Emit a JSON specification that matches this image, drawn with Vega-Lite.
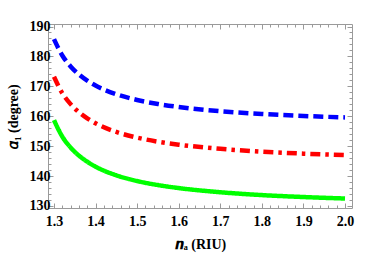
{
  "$schema": "https://vega.github.io/schema/vega-lite/v6.json",
  "width": 304,
  "height": 184,
  "autosize": {"type": "none"},
  "padding": {"left": 48, "top": 24, "right": 22, "bottom": 45},
  "config": {
    "view": {"stroke": "#9a9a9a", "strokeWidth": 1},
    "axis": {
      "domain": false,
      "grid": false,
      "tickColor": "#9a9a9a",
      "labelFont": "Liberation Serif",
      "labelFontWeight": "bold",
      "labelFontSize": 14,
      "labelColor": "#000",
      "titleFont": "Liberation Serif",
      "titleFontWeight": "bold",
      "titleFontSize": 14,
      "titleColor": "#000",
      "labelOverlap": false,
      "labelFlush": false
    }
  },
  "data": {
    "values": [
      {"n": 1.30, "v": 185.8, "s": "a"}, {"n": 1.32, "v": 180.3, "s": "a"}, {"n": 1.34, "v": 176.65, "s": "a"},
      {"n": 1.36, "v": 173.96, "s": "a"}, {"n": 1.38, "v": 171.9, "s": "a"}, {"n": 1.40, "v": 170.26, "s": "a"},
      {"n": 1.45, "v": 167.36, "s": "a"}, {"n": 1.50, "v": 165.45, "s": "a"}, {"n": 1.55, "v": 164.1, "s": "a"},
      {"n": 1.60, "v": 163.09, "s": "a"}, {"n": 1.70, "v": 161.69, "s": "a"}, {"n": 1.80, "v": 160.76, "s": "a"},
      {"n": 1.90, "v": 160.1, "s": "a"}, {"n": 2.00, "v": 159.61, "s": "a"},
      {"n": 1.30, "v": 173.2, "s": "b"}, {"n": 1.32, "v": 167.7, "s": "b"}, {"n": 1.34, "v": 164.05, "s": "b"},
      {"n": 1.36, "v": 161.35, "s": "b"}, {"n": 1.38, "v": 159.3, "s": "b"}, {"n": 1.40, "v": 157.65, "s": "b"},
      {"n": 1.45, "v": 154.75, "s": "b"}, {"n": 1.50, "v": 152.85, "s": "b"}, {"n": 1.55, "v": 151.5, "s": "b"},
      {"n": 1.60, "v": 150.5, "s": "b"}, {"n": 1.70, "v": 149.1, "s": "b"}, {"n": 1.80, "v": 148.15, "s": "b"},
      {"n": 1.90, "v": 147.5, "s": "b"}, {"n": 2.00, "v": 147.0, "s": "b"},
      {"n": 1.30, "v": 158.7, "s": "c"}, {"n": 1.32, "v": 153.2, "s": "c"}, {"n": 1.34, "v": 149.55, "s": "c"},
      {"n": 1.36, "v": 146.85, "s": "c"}, {"n": 1.38, "v": 144.8, "s": "c"}, {"n": 1.40, "v": 143.15, "s": "c"},
      {"n": 1.45, "v": 140.25, "s": "c"}, {"n": 1.50, "v": 138.35, "s": "c"}, {"n": 1.55, "v": 137.0, "s": "c"},
      {"n": 1.60, "v": 136.0, "s": "c"}, {"n": 1.70, "v": 134.6, "s": "c"}, {"n": 1.80, "v": 133.65, "s": "c"},
      {"n": 1.90, "v": 133.0, "s": "c"}, {"n": 2.00, "v": 132.5, "s": "c"}
    ]
  },
  "resolve": {"axis": {"x": "independent", "y": "independent"}},
  "layer": [
    {
      "mark": {"type": "line", "interpolate": "monotone", "strokeWidth": 4.5, "strokeCap": "butt", "clip": true},
      "encoding": {
        "x": {
          "field": "n", "type": "quantitative",
          "scale": {"domain": [1.2856, 2.0168], "nice": false, "zero": false},
          "axis": {
            "orient": "bottom",
            "title": "𝒏ₐ (RIU)",
            "titlePadding": 7,
            "labelFont": "Liberation Serif",
            "values": [1.3,1.32,1.34,1.36,1.38,1.4,1.42,1.44,1.46,1.48,1.5,1.52,1.54,1.56,1.58,1.6,1.62,1.64,1.66,1.68,1.7,1.72,1.74,1.76,1.78,1.8,1.82,1.84,1.86,1.88,1.9,1.92,1.94,1.96,1.98,2.0],
            "labelExpr": "abs(datum.value*10 - round(datum.value*10)) < 0.001 ? format(datum.value, '.1f') : ''",
            "tickSize": {"condition": {"test": "abs(datum.value*10 - round(datum.value*10)) < 0.001", "value": -5}, "value": -3},
            "labelPadding": 11
          }
        },
        "y": {
          "field": "v", "type": "quantitative",
          "scale": {"domain": [129.33, 190.84], "nice": false, "zero": false},
          "axis": {
            "orient": "left",
            "title": "𝛼₁ (degree)",
            "titlePadding": 9,
            "labelFont": "Liberation Serif",
            "values": [130,132,134,136,138,140,142,144,146,148,150,152,154,156,158,160,162,164,166,168,170,172,174,176,178,180,182,184,186,188,190],
            "labelExpr": "datum.value % 10 == 0 ? format(datum.value, 'd') : ''",
            "tickSize": {"condition": {"test": "datum.value % 10 == 0", "value": -5}, "value": -3},
            "labelPadding": 3
          }
        },
        "color": {
          "field": "s", "type": "nominal", "legend": null,
          "scale": {"domain": ["a", "b", "c"], "range": ["#0000ff", "#ff0000", "#00ff00"]}
        },
        "strokeDash": {
          "field": "s", "type": "nominal", "legend": null,
          "scale": {"domain": ["a", "b", "c"], "range": [[10, 5], [10, 5, 3.5, 5], [1, 0]]}
        }
      }
    },
    {
      "mark": {"type": "line", "opacity": 0},
      "encoding": {
        "x": {
          "field": "n", "type": "quantitative",
          "axis": {
            "orient": "top", "title": null, "labels": false,
            "values": [1.3,1.32,1.34,1.36,1.38,1.4,1.42,1.44,1.46,1.48,1.5,1.52,1.54,1.56,1.58,1.6,1.62,1.64,1.66,1.68,1.7,1.72,1.74,1.76,1.78,1.8,1.82,1.84,1.86,1.88,1.9,1.92,1.94,1.96,1.98,2.0],
            "tickSize": {"condition": {"test": "abs(datum.value*10 - round(datum.value*10)) < 0.001", "value": -5}, "value": -3}
          }
        },
        "y": {
          "field": "v", "type": "quantitative",
          "axis": {
            "orient": "right", "title": null, "labels": false,
            "values": [130,132,134,136,138,140,142,144,146,148,150,152,154,156,158,160,162,164,166,168,170,172,174,176,178,180,182,184,186,188,190],
            "tickSize": {"condition": {"test": "datum.value % 10 == 0", "value": -5}, "value": -3}
          }
        },
        "detail": {"field": "s", "type": "nominal"}
      }
    }
  ]
}
